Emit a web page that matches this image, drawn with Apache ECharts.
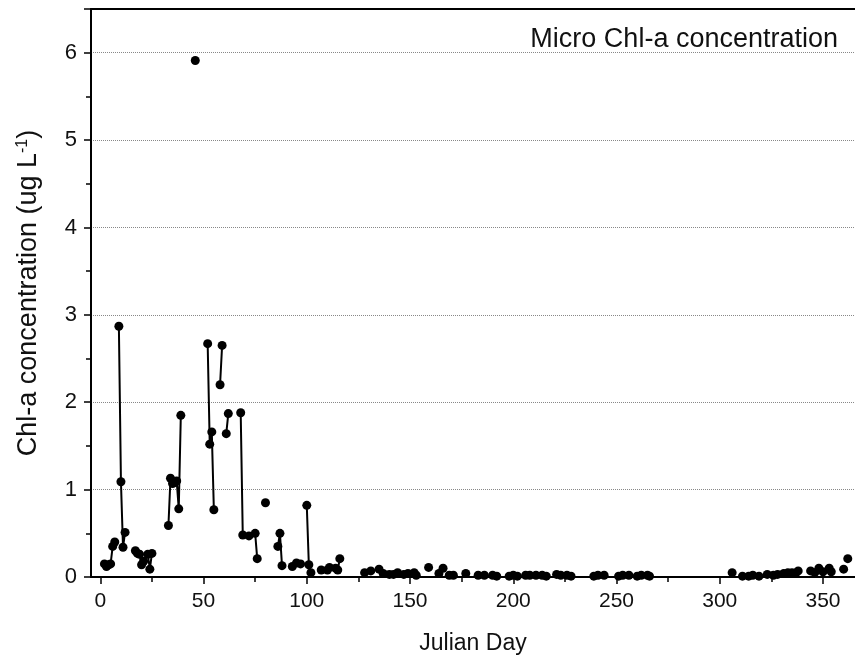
<!DOCTYPE html>
<html lang="en">

<head>
	<meta charset="UTF-8">
	<script src="https://cdn.jsdelivr.net/npm/echarts@6.0.0/dist/echarts.min.js"></script>
	<title>Micro Chl-a concentration</title>
	<style>
		body { margin: 0; background: #fff; }
	</style>
</head>

<body>
	<div id="main" style="width: 855px;height:665px;"></div>

	<script>
		// Julian day of each sample and its Chl-a value (ug L-1)
		var days = [2, 3, 4, 5, 6, 7, 9, 10, 11, 12, 17, 18, 19, 20, 21, 23, 24, 25,
			33, 34, 35, 36, 37, 38, 39, 46, 52, 53, 54, 55, 58, 59, 61, 62, 68, 69, 72, 75, 76,
			80, 86, 87, 88, 93, 95, 97, 100, 101, 102, 107, 110, 111, 114, 115, 116,
			128, 131, 135, 137, 140, 142, 144, 147, 149, 152, 153, 159, 164, 166, 169, 171, 177,
			183, 186, 190, 192, 198, 200, 202, 206, 208, 211, 214, 216, 221, 223, 226, 228,
			239, 241, 244, 251, 253, 256, 260, 262, 265, 266,
			306, 311, 314, 316, 319, 323, 326, 328, 331, 333, 335, 337, 338,
			344, 346, 348, 350, 353, 354, 360, 362];
		var chla = [0.15, 0.12, 0.14, 0.15, 0.35, 0.40, 2.87, 1.09, 0.34, 0.51, 0.30, 0.27, 0.26, 0.14, 0.18, 0.26, 0.09, 0.27,
			0.59, 1.13, 1.07, 1.08, 1.10, 0.78, 1.85, 5.91, 2.67, 1.52, 1.66, 0.77, 2.20, 2.65, 1.64, 1.87, 1.88, 0.48, 0.47, 0.50, 0.21,
			0.85, 0.35, 0.50, 0.13, 0.12, 0.16, 0.15, 0.82, 0.14, 0.05, 0.08, 0.08, 0.11, 0.10, 0.08, 0.21,
			0.05, 0.07, 0.09, 0.04, 0.03, 0.03, 0.05, 0.03, 0.04, 0.05, 0.02, 0.11, 0.04, 0.10, 0.02, 0.02, 0.04,
			0.02, 0.02, 0.02, 0.01, 0.01, 0.02, 0.01, 0.02, 0.02, 0.02, 0.02, 0.01, 0.03, 0.02, 0.02, 0.01,
			0.01, 0.02, 0.02, 0.01, 0.02, 0.02, 0.01, 0.02, 0.02, 0.01,
			0.05, 0.01, 0.01, 0.02, 0.01, 0.03, 0.02, 0.03, 0.04, 0.05, 0.05, 0.05, 0.07,
			0.07, 0.05, 0.10, 0.06, 0.10, 0.06, 0.09, 0.21];

		var xMajor = [0, 50, 100, 150, 200, 250, 300, 350];
		var xMinor = [25, 75, 125, 175, 225, 275, 325];

		// only consecutive days are joined by a line
		var lineData = [];
		for (var i = 0; i < days.length; i++) {
			if (i > 0 && days[i] - days[i - 1] > 1) {
				lineData.push(['-', '-']);
			}
			lineData.push([days[i], chla[i]]);
		}

		var font = 'Liberation Sans, Arial, sans-serif';
		var chart = echarts.init(document.getElementById('main'));

		chart.setOption({
			animation: false,
			title: {
				text: 'Micro Chl-a concentration',
				right: 12,
				top: 21,
				textStyle: { fontFamily: font, fontSize: 27, fontWeight: 'normal', color: '#111' }
			},
			grid: { left: 91, top: 9, right: 0, bottom: 88 },
			xAxis: [{
				type: 'value',
				min: -4.5,
				max: 365.5,
				name: 'Julian Day',
				nameLocation: 'middle',
				nameGap: 55,
				nameTextStyle: { fontFamily: font, fontSize: 23, color: '#111' },
				axisLine: { show: true, onZero: false, lineStyle: { color: '#000', width: 2 } },
				axisTick: { show: true, customValues: xMajor, length: 7, lineStyle: { color: '#000', width: 1.5 } },
				axisLabel: { customValues: xMajor, margin: 14, fontFamily: font, fontSize: 21, color: '#111' },
				splitLine: { show: false }
			}, {
				// minor ticks along the bottom
				type: 'value',
				position: 'bottom',
				min: -4.5,
				max: 365.5,
				axisLine: { show: false, onZero: false },
				axisTick: { show: true, customValues: xMinor, length: 5, lineStyle: { color: '#000', width: 1.5 } },
				axisLabel: { show: false },
				splitLine: { show: false }
			}, {
				// top frame
				type: 'value',
				position: 'top',
				min: -4.5,
				max: 365.5,
				axisLine: { show: true, onZero: false, lineStyle: { color: '#000', width: 2 } },
				axisTick: { show: false },
				axisLabel: { show: false },
				splitLine: { show: false }
			}],
			yAxis: {
				type: 'value',
				min: 0,
				max: 6.5,
				interval: 1,
				name: '{n|Chl-a concentration (ug L}{s|-1}{n|)}',
				nameLocation: 'middle',
				nameGap: 48,
				nameTextStyle: {
					rich: {
						n: { fontFamily: font, fontSize: 27, color: '#111' },
						s: { fontFamily: font, fontSize: 16, color: '#111', verticalAlign: 'top', padding: [0, 0, 12, 0] }
					}
				},
				axisLine: { show: true, onZero: false, lineStyle: { color: '#000', width: 2 } },
				axisTick: { show: true, length: 7, lineStyle: { color: '#000', width: 1.5 } },
				minorTick: { show: true, splitNumber: 2, length: 5, lineStyle: { color: '#000', width: 1.5 } },
				axisLabel: { margin: 14, showMaxLabel: false, fontFamily: font, fontSize: 22, color: '#111' },
				splitLine: { show: true, lineStyle: { color: '#888', type: [1, 1], width: 1 } }
			},
			series: [{
				type: 'line',
				data: lineData,
				connectNulls: false,
				symbol: 'circle',
				symbolSize: 9,
				showSymbol: true,
				itemStyle: { color: '#000' },
				lineStyle: { color: '#000', width: 2 }
			}]
		});
	</script>
</body>

</html>
